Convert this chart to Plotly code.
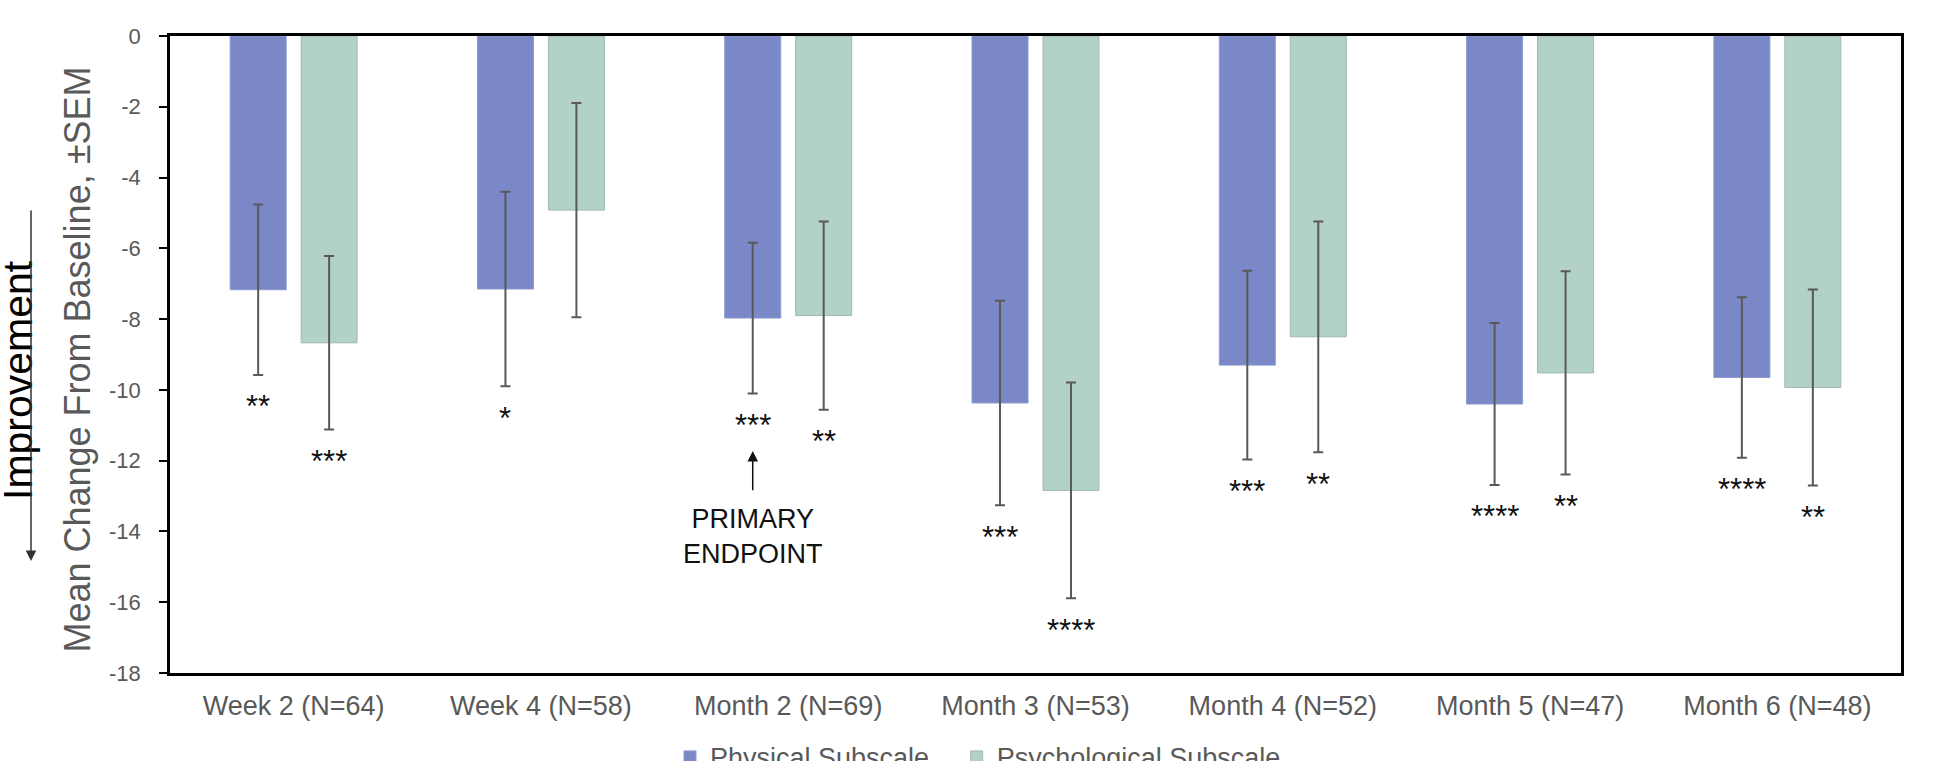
import plotly.graph_objects as go

# ---------------- data ----------------
categories = ["Week 2 (N=64)", "Week 4 (N=58)", "Month 2 (N=69)", "Month 3 (N=53)",
              "Month 4 (N=52)", "Month 5 (N=47)", "Month 6 (N=48)"]
physical_mean = [-7.17, -7.15, -7.97, -10.37, -9.30, -10.40, -9.65]
physical_sem = [2.41, 2.75, 2.13, 2.89, 2.67, 2.29, 2.27]
psych_mean = [-8.67, -4.92, -7.90, -12.84, -8.50, -9.52, -9.93]
psych_sem = [2.45, 3.03, 2.66, 3.05, 3.26, 2.87, 2.77]
physical_sig = ["**", "*", "***", "***", "***", "****", "****"]
psych_sig = ["***", "", "**", "****", "**", "**", "**"]
y_ticks = [0, -2, -4, -6, -8, -10, -12, -14, -16, -18]
series_names = ["Physical Subscale", "Psychological Subscale"]
primary_index = 2

# ---------------- layout constants ----------------
W, H = 1937, 761
ML, MR, MT, MB = 170, 36, 36, 88
plot_w = W - ML - MR
plot_h = H - MT - MB
y_min, y_max = -18, 0
px_per_unit = plot_h / (y_max - y_min)
cat_w = plot_w / len(categories)
bargap = 0.426
bargroupgap = 0.211
slot = cat_w * (1 - bargap) / 2
offsets = (-slot / 2, slot / 2)

PHYS_COLOR = "#7A88C8"
PSY_COLOR = "#B2D2C5"
GRAY = "#595959"
FONT = "Arial, Liberation Sans, sans-serif"
NBSP = "\u00a0"

fig = go.Figure()
fig.add_trace(go.Bar(
    x=categories, y=physical_mean, name=series_names[0] + NBSP * 3,
    marker=dict(color=PHYS_COLOR, line=dict(color="#8D99D0", width=1)),
    error_y=dict(type="data", array=physical_sem, visible=True,
                 color=GRAY, thickness=2, width=5),
))
fig.add_trace(go.Bar(
    x=categories, y=psych_mean, name=series_names[1],
    marker=dict(color=PSY_COLOR, line=dict(color="#9FB9AE", width=1)),
    error_y=dict(type="data", array=psych_sem, visible=True,
                 color=GRAY, thickness=2, width=5),
))

annotations = []
star_gap = 0.9
for means, sems, sigs, off in ((physical_mean, physical_sem, physical_sig, offsets[0]),
                               (psych_mean, psych_sem, psych_sig, offsets[1])):
    for cat, m, s, sig in zip(categories, means, sems, sigs):
        if sig:
            annotations.append(dict(
                x=cat, y=m - s - star_gap, xref="x", yref="y", xshift=off,
                text=sig, showarrow=False, xanchor="center", yanchor="middle",
                font=dict(family=FONT, size=31, color="#111111"),
            ))

# primary endpoint arrow + label
p_low = physical_mean[primary_index] - physical_sem[primary_index]
tip = p_low - 1.63
tail = p_low - 2.78
annotations.append(dict(
    x=categories[primary_index], y=tip, xref="x", yref="y", xshift=offsets[0],
    ax=0, ay=(tip - tail) * px_per_unit, text="", showarrow=True,
    arrowhead=2, arrowsize=1.4, arrowwidth=1.5, arrowcolor="#111111",
))
annotations.append(dict(
    x=categories[primary_index], y=p_low - 4.03, xref="x", yref="y", xshift=offsets[0],
    text="PRIMARY<br>ENDPOINT", showarrow=False, xanchor="center", yanchor="middle",
    font=dict(family=FONT, size=27, color="#111111"),
))

# y-axis title
annotations.append(dict(
    x=(78 - ML) / plot_w, y=0.492, xref="paper", yref="paper",
    text="Mean Change From Baseline, ±SEM", textangle=-90, showarrow=False,
    xanchor="center", yanchor="middle",
    font=dict(family=FONT, size=36, color=GRAY),
))
# "Improvement" label and its arrow
annotations.append(dict(
    x=(18 - ML) / plot_w, y=(H - MB - 380) / plot_h, xref="paper", yref="paper",
    text="Improvement", textangle=-90, showarrow=False,
    xanchor="center", yanchor="middle",
    font=dict(family=FONT, size=41, color="#000000"),
))
annotations.append(dict(
    x=(31 - ML) / plot_w, y=(H - MB - 561) / plot_h, xref="paper", yref="paper",
    ax=0, ay=-352, text="", showarrow=True,
    arrowhead=2, arrowsize=1.4, arrowwidth=1.5, arrowcolor="#333333",
))

fig.update_layout(
    width=W, height=H,
    margin=dict(l=ML, r=MR, t=MT, b=MB, autoexpand=False),
    paper_bgcolor="white", plot_bgcolor="white",
    barmode="group", bargap=bargap, bargroupgap=bargroupgap,
    font=dict(family=FONT, color=GRAY),
    showlegend=True,
    legend=dict(orientation="h", x=(670 - ML) / plot_w, xanchor="left",
                y=-0.094, yanchor="top", font=dict(family=FONT, size=27, color=GRAY),
                bgcolor="rgba(0,0,0,0)"),
    annotations=annotations,
)
fig.update_xaxes(
    showline=True, mirror=True, linecolor="black", linewidth=2.5,
    showgrid=False, zeroline=False, ticks="", ticklabelstandoff=7,
    tickfont=dict(family=FONT, size=27, color=GRAY),
)
fig.update_yaxes(
    range=[y_min, y_max], tickvals=y_ticks, ticktext=[str(v) for v in y_ticks],
    showline=True, mirror=True, linecolor="black", linewidth=2.5,
    showgrid=False, zeroline=False, ticks="outside", ticklen=8, tickwidth=2,
    tickcolor="black", ticklabelstandoff=14,
    tickfont=dict(family=FONT, size=22, color=GRAY),
)

fig.write_html("out.html", config={"displayModeBar": False},
               post_script="document.body.style.margin='0';")
